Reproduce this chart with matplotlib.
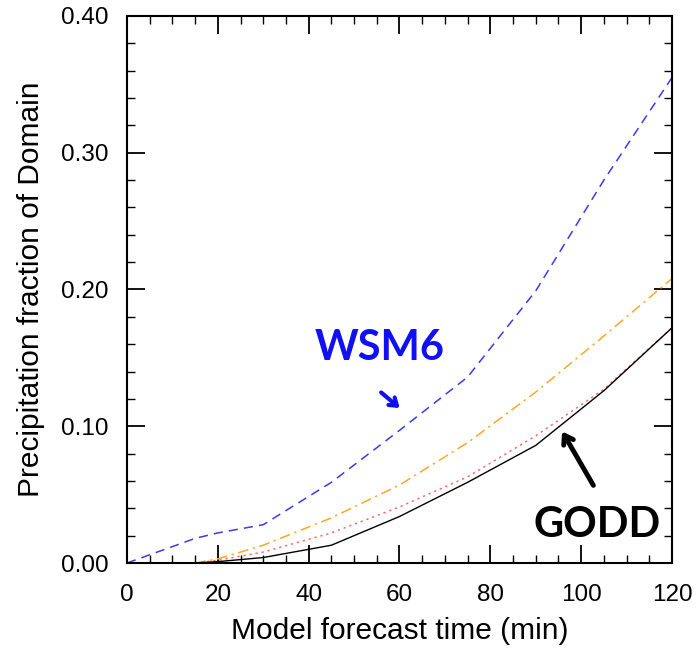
import matplotlib
matplotlib.use("Agg")
import matplotlib.pyplot as plt
from matplotlib.ticker import MultipleLocator

plt.rcParams["font.family"] = ["Liberation Sans", "DejaVu Sans"]

# forecast time (min)
t = [0, 5, 10, 15, 20, 30, 45, 60, 75, 90, 105, 120]
t2 = [15, 20, 30, 45, 60, 75, 90, 105, 120]

wsm6 = [0.0, 0.006, 0.012, 0.018, 0.022, 0.028, 0.059, 0.097, 0.136, 0.199, 0.280, 0.355]
orange = [0.0, 0.003, 0.013, 0.033, 0.057, 0.088, 0.125, 0.166, 0.208]
red = [0.0, 0.002, 0.008, 0.022, 0.041, 0.063, 0.093, 0.127, 0.172]
godd = [0.0, 0.001, 0.004, 0.013, 0.034, 0.059, 0.086, 0.126, 0.172]

fig = plt.figure(figsize=(6.99, 6.51), dpi=100)
ax = fig.add_axes([127 / 699, 88 / 651, 545 / 699, 547 / 651])

ax.plot(t, wsm6, color="#3a3af0", ls=(0, (6, 4)), lw=1.1)
ax.plot(t2, orange, color="#ffa726", ls=(0, (7, 3, 1.5, 3)), lw=1.1)
ax.plot(t2, red, color="#ff6b6b", ls=(0, (1.5, 2.5)), lw=1.1)
ax.plot(t2, godd, color="black", lw=1.0)

ax.set_xlim(0, 120)
ax.set_ylim(0, 0.40)
ax.xaxis.set_major_locator(MultipleLocator(20))
ax.xaxis.set_minor_locator(MultipleLocator(5))
ax.yaxis.set_major_locator(MultipleLocator(0.1))
ax.yaxis.set_minor_locator(MultipleLocator(0.02))
ax.yaxis.set_major_formatter(lambda v, p: f"{v:.2f}")
ax.tick_params(which="both", direction="in", top=True, right=True, labelsize=17.5)
ax.tick_params(axis="x", which="major", pad=15)
ax.tick_params(axis="y", which="major", pad=13)
ax.tick_params(which="major", length=13, width=1.3)
ax.tick_params(which="minor", length=6, width=1.0)
for s in ax.spines.values():
    s.set_linewidth(1.5)

ax.set_xlabel("Model forecast time (min)", fontsize=21.5, labelpad=8)
ax.set_ylabel("Precipitation fraction of Domain", fontsize=21.5, labelpad=12)

ax.text(55.7, 0.157, "WSM6", color="#1010f0", fontsize=30, fontweight="bold",
        family=["Lato", "DejaVu Sans"], ha="center", va="center")
ax.annotate("", xy=(60.5, 0.112), xytext=(55.5, 0.126),
            arrowprops=dict(arrowstyle="->,head_length=0.5,head_width=0.35", color="#1010f0", lw=3))
ax.text(103.5, 0.028, "GODD", color="black", fontsize=30, fontweight="bold",
        family=["Lato", "DejaVu Sans"], ha="center", va="center")
ax.annotate("", xy=(95.5, 0.098), xytext=(103, 0.055),
            arrowprops=dict(arrowstyle="->,head_length=0.6,head_width=0.4", color="black", lw=3.5))

fig.savefig("out.png", dpi=100)
